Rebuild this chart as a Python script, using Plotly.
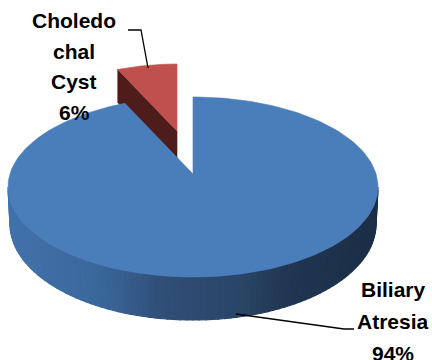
import math
import plotly.graph_objects as go

# ---- data ----
categories = ["Biliary Atresia", "Choledochal Cyst"]
values = [94, 6]
label_lines = [["Biliary", "Atresia"], ["Choledo", "chal", "Cyst"]]

# ---- styling / geometry (pixel space) ----
W, H = 432, 360
top_colors = ["#4a7ebb", "#c0504d"]
side_dark = "#4e1c1a"
geo = [
    dict(cx=193, cy=187, a=185, b=90, lift=13, d=37, ba=183, bb=96),
    dict(cx=177, cy=142, a=161, b=78, lift=11, d=33, ba=159, bb=83),
]

total = sum(values)
angles = []
acc = 0.0
for v in values:
    start = acc / total * 360.0
    acc += v
    angles.append((start, acc / total * 360.0))

def pt(g, th):
    r = math.radians(th)
    return g["cx"] + g["a"] * math.sin(r), g["cy"] - g["b"] * math.cos(r)

def ptb(g, th):
    r = math.radians(th)
    return g["cx"] + g["ba"] * math.sin(r), g["cy"] + g["d"] - g["bb"] * math.cos(r)

def arc(g, t0, t1, n=120):
    return [pt(g, t0 + (t1 - t0) * i / n) for i in range(n + 1)]

def poly(fig, pts, color, lw=0.6):
    xs = [p[0] for p in pts] + [pts[0][0]]
    ys = [p[1] for p in pts] + [pts[0][1]]
    fig.add_trace(go.Scatter(x=xs, y=ys, mode="lines", fill="toself",
                             fillcolor=color, line=dict(color=color, width=lw),
                             hoverinfo="skip", showlegend=False))

def lerp_color(x):
    stops = [(10, (66, 114, 170)), (100, (58, 103, 155)), (160, (48, 79, 120)),
             (240, (42, 69, 102)), (285, (33, 54, 82)), (378, (27, 46, 70))]
    if x <= stops[0][0]:
        c = stops[0][1]
    elif x >= stops[-1][0]:
        c = stops[-1][1]
    else:
        for (x0, c0), (x1, c1) in zip(stops, stops[1:]):
            if x0 <= x <= x1:
                f = (x - x0) / (x1 - x0)
                c = tuple(c0[k] + (c1[k] - c0[k]) * f for k in range(3))
                break
    return "rgb(%d,%d,%d)" % tuple(int(round(v)) for v in c)

fig = go.Figure()

# ---- Choledochal cyst (exploded, behind) ----
g = geo[1]
s, e = angles[1]
apex = (g["cx"], g["cy"] - g["lift"])
apex_b = (g["cx"], g["cy"] - g["lift"] + g["d"])
rim_t = pt(g, s)
rim_b = (rim_t[0], rim_t[1] + g["d"])
poly(fig, [apex, rim_t, rim_b, apex_b], side_dark)
poly(fig, [apex] + arc(g, s, e, 40), top_colors[1])

# ---- Biliary atresia ----
g = geo[0]
s, e = angles[0]
lo, hi = max(s, 90.0), min(e, 270.0)
n = 90
for i in range(n):
    t0 = lo + (hi - lo) * i / n
    t1 = lo + (hi - lo) * (i + 1) / n
    p0, p1 = pt(g, t0), pt(g, t1)
    q0, q1 = ptb(g, t0), ptb(g, t1)
    poly(fig, [p0, p1, q1, q0], lerp_color((p0[0] + p1[0]) / 2), lw=1.2)
apex = (g["cx"], g["cy"] - g["lift"])
poly(fig, [apex] + arc(g, s, e, 240), top_colors[0])

# ---- leader lines ----
leaders = [
    [(236, 314), (344, 329), (354, 329)],
    [(128, 30), (141, 30), (148, 68)],
]
for L in leaders:
    fig.add_trace(go.Scatter(x=[p[0] for p in L], y=[p[1] for p in L], mode="lines",
                             line=dict(color="black", width=1.3), hoverinfo="skip",
                             showlegend=False))

# ---- labels ----
label_pos = [(393, 289.5), (74, 20.5)]
steps = [32.0, 30.7]
for i, (lines, v) in enumerate(zip(label_lines, values)):
    pct = "%d%%" % round(v / total * 100)
    x0, y0 = label_pos[i]
    for j, txt in enumerate(lines + [pct]):
        fig.add_annotation(x=x0, y=y0 + j * steps[i], text=txt, showarrow=False,
                           xanchor="center", yanchor="middle",
                           font=dict(family="Liberation Sans, Arial", size=21,
                                     color="black", weight="bold"))

fig.update_xaxes(range=[0, W], visible=False, fixedrange=True)
fig.update_yaxes(range=[H, 0], visible=False, fixedrange=True)
fig.update_layout(width=W, height=H, margin=dict(l=0, r=0, t=0, b=0),
                  paper_bgcolor="white", plot_bgcolor="white", showlegend=False)
fig.write_html("out.html")
